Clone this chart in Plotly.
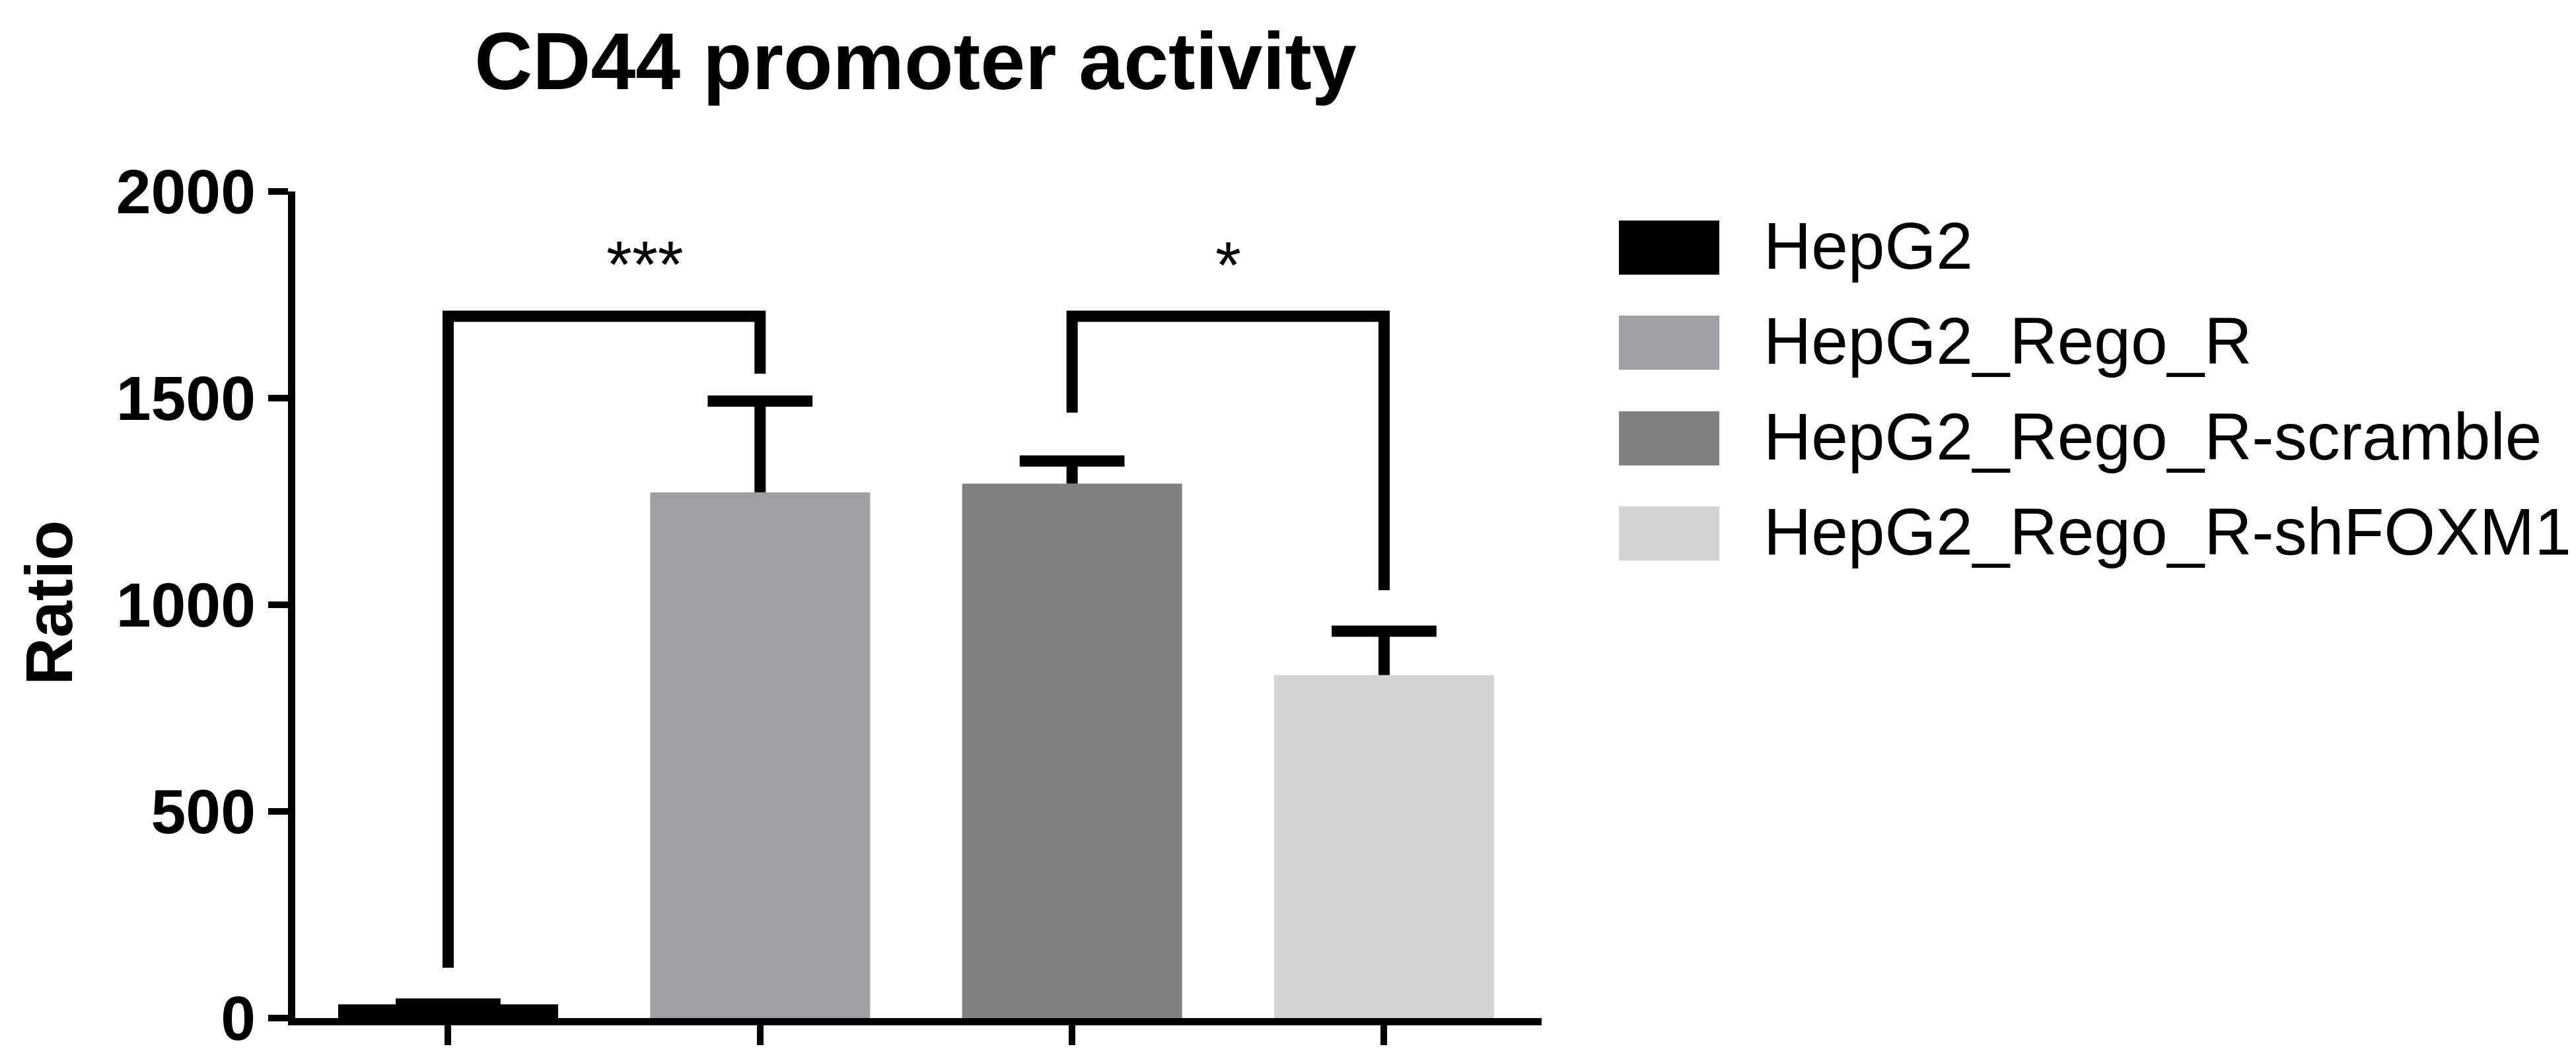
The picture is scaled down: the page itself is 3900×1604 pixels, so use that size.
import plotly.graph_objects as go

# ---- data ----
categories = ["HepG2", "HepG2_Rego_R", "HepG2_Rego_R-scramble", "HepG2_Rego_R-shFOXM1"]
means = [33, 1272, 1293, 830]
errors = [1, 221, 55, 106]
colors = ["#000000", "#a19fa5", "#808080", "#d4d4d4"]
y_ticks = [0, 500, 1000, 1500, 2000]

bracket_pairs = [(0, 1), (2, 3)]
bracket_tops = [1698, 1698]
bracket_leg_bottoms = [(122, 1559), (1465, 1035)]
sig_labels = ["***", "*"]
sig_label_x = [0.63, 2.5]
sig_label_y = [1824, 1822]

title_text = "CD44 promoter activity"
y_title = "Ratio"

# ---- figure geometry (pixels) ----
W, H = 3900, 1604
L, R, T, B = 439, 1574, 282, 70
PW, PH = W - L - R, H - T - B
FONT = "Arial, Liberation Sans, sans-serif"
BAR_W = 0.705
CAP_HALF = 0.168
LW = 17

x_pos = list(range(len(categories)))

fig = go.Figure()
fig.add_trace(go.Bar(
    x=x_pos, y=means, width=BAR_W,
    marker=dict(color=colors, line=dict(width=0)),
    showlegend=False, hoverinfo="skip",
))

# error bars (upper only)
ex, ey = [], []
for xi, m, e in zip(x_pos, means, errors):
    ex += [xi, xi, None, xi - CAP_HALF, xi + CAP_HALF, None]
    ey += [m, m + e, None, m + e, m + e, None]
fig.add_trace(go.Scatter(x=ex, y=ey, mode="lines",
                         line=dict(color="black", width=LW),
                         showlegend=False, hoverinfo="skip"))

# significance brackets
bx, by = [], []
for (a, b), top, (la, lb) in zip(bracket_pairs, bracket_tops, bracket_leg_bottoms):
    bx += [a, a, b, b, None]
    by += [la, top, top, lb, None]
fig.add_trace(go.Scatter(x=bx, y=by, mode="lines",
                         line=dict(color="black", width=LW),
                         showlegend=False, hoverinfo="skip"))

for lab, lx, ly in zip(sig_labels, sig_label_x, sig_label_y):
    fig.add_annotation(x=lx, y=ly, xref="x", yref="y", text=lab, showarrow=False,
                       xanchor="center", yanchor="middle",
                       font=dict(family=FONT, size=100, color="black"))

# custom legend
def px_x(p):
    return (p - L) / PW

def px_y(p):
    return (H - B - p) / PH

leg_centers = [367, 511, 656, 800]
for name, col, cy in zip(categories, colors, leg_centers):
    fig.add_shape(type="rect", xref="paper", yref="paper",
                  x0=px_x(2443), x1=px_x(2595), y0=px_y(cy + 41), y1=px_y(cy - 41),
                  fillcolor=col, line=dict(width=0))
    fig.add_annotation(x=px_x(2660), y=px_y(cy - 3), xref="paper", yref="paper",
                       text=name, showarrow=False, xanchor="left", yanchor="middle",
                       font=dict(family=FONT, size=100, color="black"))

# y-axis title
fig.add_annotation(x=px_x(66), y=px_y(905), xref="paper", yref="paper", text=y_title,
                   showarrow=False, textangle=-90, xanchor="center", yanchor="middle",
                   font=dict(family=FONT, size=100, color="black", weight="bold"))

fig.update_layout(
    width=W, height=H,
    margin=dict(l=L, r=R, t=T, b=B, pad=0),
    paper_bgcolor="white", plot_bgcolor="white",
    showlegend=False,
    title=dict(text=title_text, x=1378 / W, xanchor="center", xref="container",
               y=1 - 84 / H, yref="container", yanchor="middle",
               font=dict(family=FONT, size=122, color="black", weight="bold")),
    xaxis=dict(range=[-0.49, 3.505], showline=True, linewidth=11, linecolor="black",
               ticks="outside", ticklen=30, tickwidth=10, tickcolor="black",
               tickvals=x_pos, ticktext=[""] * len(x_pos),
               showgrid=False, zeroline=False),
    yaxis=dict(range=[0, 2000], showline=True, linewidth=11, linecolor="black",
               ticks="outside", ticklen=30, tickwidth=10, tickcolor="black",
               tickvals=y_ticks, ticktext=[str(v) for v in y_ticks],
               tickfont=dict(family=FONT, size=95, color="black", weight="bold"),
               showgrid=False, zeroline=False),
)

fig.write_html("out.html")
